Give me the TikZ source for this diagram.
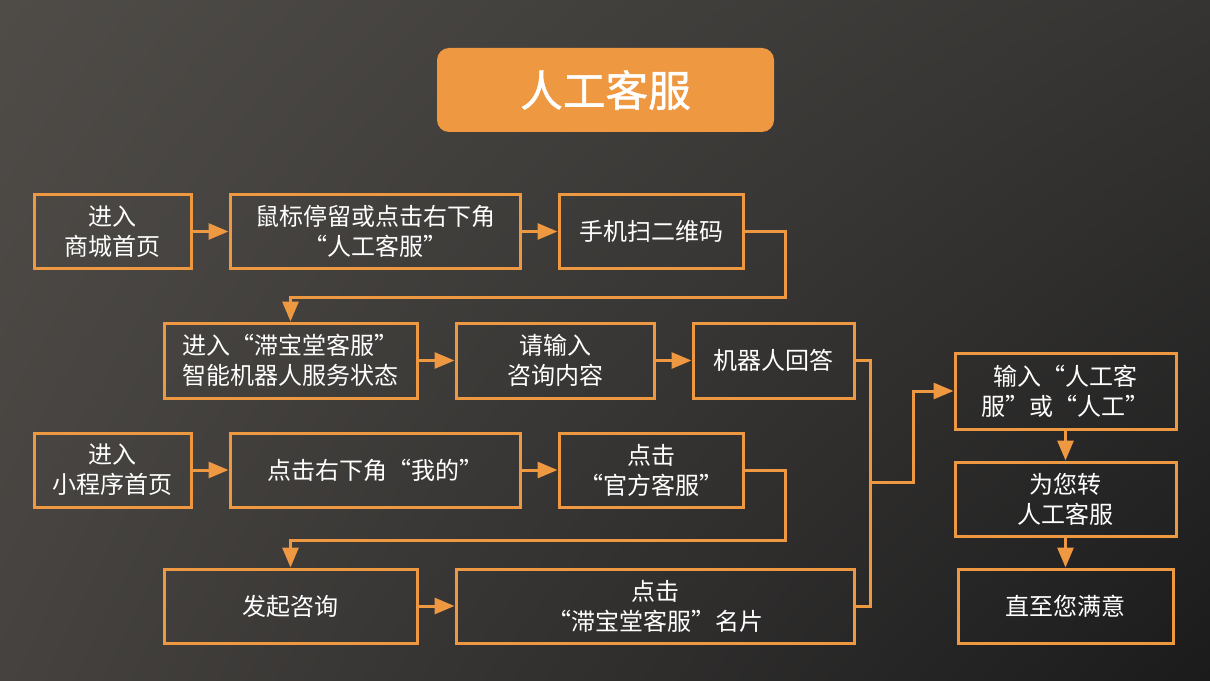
\documentclass[tikz,border=0pt]{standalone}
\usepackage{fontspec}
\setmainfont{Noto Sans CJK SC}
\newfontfamily\titlefont[FakeBold=1.2]{Noto Sans CJK SC}
\usetikzlibrary{arrows.meta,shadings}
\definecolor{orng}{HTML}{EF9842}
\definecolor{bgTL}{HTML}{4F4C48}
\definecolor{bgTR}{HTML}{353432}
\definecolor{bgBL}{HTML}{45423F}
\definecolor{bgBR}{HTML}{1B1B1C}
\tikzset{
  box/.style={draw=orng, line width=2.25pt, text=white, align=center,
    font=\fontsize{18pt}{22.5pt}\selectfont, inner sep=0pt},
  conn/.style={draw=orng, line width=2.25pt},
  arr/.style={conn, -{Triangle[length=15pt,width=12pt]}},
}
\begin{document}
\begin{tikzpicture}[x=0.75pt,y=-0.75pt]
\shade[upper left=bgTL, upper right=bgTR, lower left=bgBL, lower right=bgBR] (0,0) rectangle (1210,681);
\useasboundingbox (0,0) rectangle (1210,681);
\node[fill=orng, rounded corners=9pt, minimum width={337*0.75pt}, minimum height={84*0.75pt}, text=white, font=\titlefont\fontsize{32pt}{36pt}\selectfont] (T) at (605.5,90) {人工客服};
% row 1
\node[box, minimum width={157*0.75pt}, minimum height={73*0.75pt}] (A1) at (112.5,231.5) {进入\\商城首页};
\node[box, minimum width={290*0.75pt}, minimum height={73*0.75pt}] (A2) at (375,231.5) {鼠标停留或点击右下角\\“人工客服”};
\node[box, minimum width={184*0.75pt}, minimum height={73*0.75pt}] (A3) at (651,231.5) {手机扫二维码};
% row 2
\node[box, minimum width={253*0.75pt}, minimum height={75*0.75pt}] (B1) at (290.5,360.5) {进入“滞宝堂客服”\\智能机器人服务状态};
\node[box, minimum width={198*0.75pt}, minimum height={75*0.75pt}] (B2) at (555,360.5) {请输入\\咨询内容};
\node[box, minimum width={161*0.75pt}, minimum height={75*0.75pt}] (B3) at (773.5,360.5) {机器人回答};
% row 3
\node[box, minimum width={157*0.75pt}, minimum height={74*0.75pt}] (C1) at (112.5,470) {进入\\小程序首页};
\node[box, minimum width={290*0.75pt}, minimum height={74*0.75pt}] (C2) at (375,470) {点击右下角“我的”};
\node[box, minimum width={184*0.75pt}, minimum height={74*0.75pt}] (C3) at (651,470) {点击\\“官方客服”};
% row 4
\node[box, minimum width={253*0.75pt}, minimum height={74*0.75pt}] (D1) at (290.5,606) {发起咨询};
\node[box, minimum width={398*0.75pt}, minimum height={74*0.75pt}] (D2) at (655,606) {点击\\“滞宝堂客服”名片};
% right column
\node[box, minimum width={221*0.75pt}, minimum height={76*0.75pt}] (E1) at (1065.5,391) {输入“人工客\\服”或“人工”};
\node[box, minimum width={221*0.75pt}, minimum height={74*0.75pt}] (E2) at (1065.5,499) {为您转\\人工客服};
\node[box, minimum width={215*0.75pt}, minimum height={74*0.75pt}] (E3) at (1065.5,606) {直至您满意};
% connectors
\draw[arr] (A1) -- (A2);
\draw[arr] (A2) -- (A3);
\coordinate (K1) at (785,297);
\draw[arr] (A3.east) -| (K1) -| (B1.north);
\draw[arr] (B1) -- (B2);
\draw[arr] (B2) -- (B3);
\draw[arr] (C1) -- (C2);
\draw[arr] (C2) -- (C3);
\coordinate (K2) at (785,540);
\draw[arr] (C3.east) -| (K2) -| (D1.north);
\draw[arr] (D1) -- (D2);
\coordinate (J) at (870,482);
\coordinate (J2) at (913,482);
\draw[conn] (B3.east) -| (J);
\draw[conn] (D2.east) -| (J);
\draw[arr] (J) -- (J2) |- (E1.west);
\draw[arr] (E1) -- (E2);
\draw[arr] (E2) -- (E3);
\end{tikzpicture}
\end{document}
